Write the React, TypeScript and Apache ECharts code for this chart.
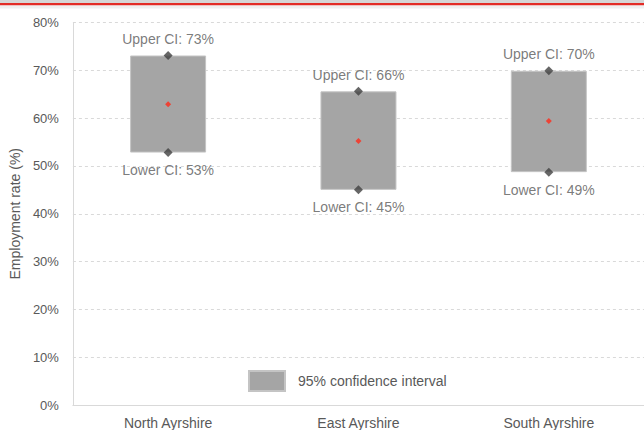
import React, { useEffect, useRef } from "react";
import * as echarts from "echarts";

const categories = ["North Ayrshire", "East Ayrshire", "South Ayrshire"];
const upperCI = [73.1, 65.6, 69.9];
const lowerCI = [52.8, 45.0, 48.7];
const estimate = [62.9, 55.2, 59.4];
const yTicks = { min: 0, max: 80, interval: 10 };
const legendLabel = "95% confidence interval";
const yAxisTitle = "Employment rate (%)";

const FONT = "'Liberation Sans', Arial, sans-serif";
const TXT = "#595959";

export default function App() {
  const ref = useRef<HTMLDivElement>(null);
  useEffect(() => {
    if (!ref.current) return;
    const chart = echarts.init(ref.current, undefined, { renderer: "svg" });
    const span = upperCI.map((u, i) => +(u - lowerCI[i]).toFixed(2));
    chart.setOption({
      animation: false,
      backgroundColor: "#ffffff",
      textStyle: { fontFamily: FONT },
      grid: { left: 70, right: -5, top: 22.5, bottom: 22 },
      legend: {
        data: [legendLabel],
        left: 248,
        top: 370,
        padding: 0,
        itemWidth: 36,
        itemHeight: 20,
        icon: "rect",
        textStyle: { color: TXT, fontSize: 14, fontFamily: FONT, padding: [0, 0, 0, 8] },
      },
      graphic: [
        { type: "rect", shape: { x: 0, y: 0, width: 644, height: 3 }, style: { fill: "#d6d6d6" } },
        { type: "rect", shape: { x: 0, y: 3, width: 644, height: 2.5 }, style: { fill: "#e32c26" } },
        { type: "rect", shape: { x: 0, y: 5.5, width: 644, height: 3 }, style: { fill: "#f0f0f0" } },
      ],
      xAxis: {
        type: "category",
        data: categories,
        axisLine: { lineStyle: { color: "#d9d9d9", width: 1 } },
        axisTick: { show: false },
        axisLabel: { color: TXT, fontSize: 14, margin: 11, fontFamily: FONT },
      },
      yAxis: {
        type: "value",
        min: yTicks.min,
        max: yTicks.max,
        interval: yTicks.interval,
        name: yAxisTitle,
        nameLocation: "middle",
        nameGap: 41,
        nameTextStyle: { color: TXT, fontSize: 14, fontFamily: FONT },
        axisLine: { show: true, lineStyle: { color: "#d9d9d9" } },
        axisTick: { show: false },
        axisLabel: { color: TXT, fontSize: 13, margin: 14, formatter: "{value}%", fontFamily: FONT },
        splitLine: { lineStyle: { color: "#d9d9d9", type: [3, 3] } },
      },
      series: [
        {
          name: "base",
          type: "bar",
          stack: "ci",
          data: lowerCI,
          barWidth: 76,
          itemStyle: { color: "transparent" },
          silent: true,
        },
        {
          name: legendLabel,
          type: "bar",
          stack: "ci",
          data: span,
          barWidth: 76,
          itemStyle: { color: "#a5a5a5", borderColor: "#c4c4c4", borderWidth: 1 },
        },
        {
          name: "upper",
          type: "scatter",
          data: upperCI,
          symbol: "diamond",
          symbolSize: 9,
          itemStyle: { color: "#404040" },
          z: 5,
          label: {
            show: true,
            position: "top",
            distance: 5,
            color: TXT,
            fontSize: 14,
            fontFamily: FONT,
            formatter: (p: any) => `Upper CI: ${Math.round(p.value)}%`,
          },
        },
        {
          name: "lower",
          type: "scatter",
          data: lowerCI,
          symbol: "diamond",
          symbolSize: 9,
          itemStyle: { color: "#404040" },
          z: 5,
          label: {
            show: true,
            position: "bottom",
            distance: 6,
            color: TXT,
            fontSize: 14,
            fontFamily: FONT,
            formatter: (p: any) => `Lower CI: ${Math.round(p.value)}%`,
          },
        },
        {
          name: "estimate",
          type: "scatter",
          data: estimate,
          symbol: "diamond",
          symbolSize: 6,
          itemStyle: { color: "#ff2a1a" },
          z: 6,
        },
      ],
    });
    return () => chart.dispose();
  }, []);
  return (
    <div
      ref={ref}
      style={{ position: "fixed", left: 0, top: 0, width: 644, height: 430, background: "#fff" }}
    />
  );
}
